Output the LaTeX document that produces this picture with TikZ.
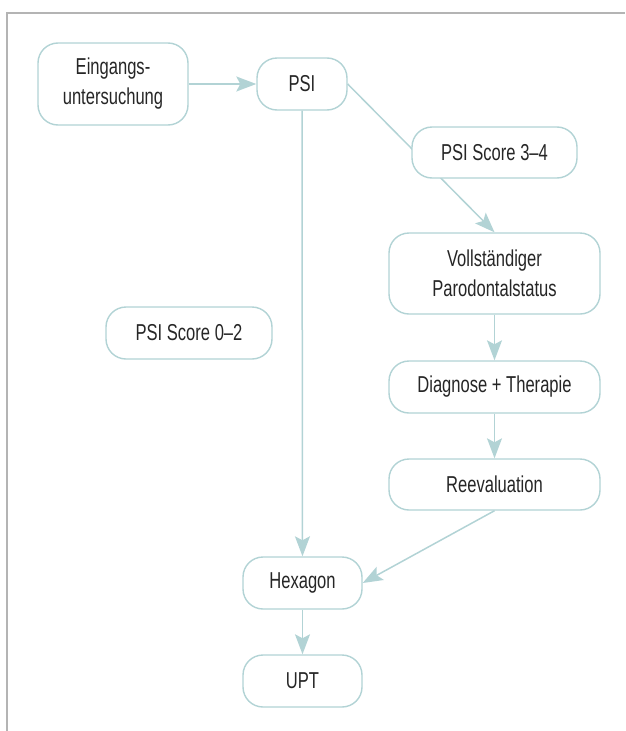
\documentclass[tikz,border=0pt]{standalone}
\usepackage{fontspec}
\setmainfont[FakeStretch=0.72]{Liberation Sans}
\usetikzlibrary{arrows.meta}
\definecolor{tealline}{HTML}{B2D3D5}
\definecolor{darktext}{HTML}{262626}
\definecolor{framegray}{HTML}{B4B4B4}

\begin{document}
\begin{tikzpicture}[x=1pt, y=-1pt,
    stepbox/.style={draw=tealline, line width=1.4pt, fill=white, rounded corners=20pt,
        text=darktext, align=center, inner sep=0pt, font=\fontsize{23}{30}\selectfont},
    flow/.style={draw=tealline, line width=1.5pt, -{Stealth[length=20pt, width=15pt, inset=4pt]}}]
    \useasboundingbox (0,0) rectangle (625,731);
    \draw[framegray, line width=1.2pt] (7,731) -- (7,13) -- (625,13);

    \node[stepbox, minimum width=150pt, minimum height=82pt] (eing) at (113,84) {Eingangs-\\untersuchung};
    \node[stepbox, minimum width=90pt, minimum height=52pt] (psi) at (302,84) {PSI};
    \node[stepbox, minimum width=211pt, minimum height=81pt] (voll) at (494.5,273.5) {Vollständiger\\Parodontalstatus};
    \node[stepbox, minimum width=166pt, minimum height=52pt] (score02) at (189,333) {PSI Score 0--2};
    \node[stepbox, minimum width=211pt, minimum height=52pt] (diag) at (494.5,387) {Diagnose + Therapie};
    \node[stepbox, minimum width=211pt, minimum height=51pt] (reeval) at (494.5,484.5) {Reevaluation};
    \node[stepbox, minimum width=119pt, minimum height=52pt] (hex) at (302.5,583) {Hexagon};
    \node[stepbox, minimum width=119pt, minimum height=52pt] (upt) at (302.5,681) {UPT};

    \draw[flow] (eing) -- (psi);
    \draw[flow] (psi.east) -- (voll.north);
    \draw[flow] (psi) -- (hex);
    \draw[flow] (voll) -- (diag);
    \draw[flow] (diag) -- (reeval);
    \draw[flow] (reeval.south) -- (hex.east);
    \draw[flow] (hex) -- (upt);

    % sits on top of the PSI line
    \node[stepbox, minimum width=165pt, minimum height=51pt] (score34) at (494.5,152.5) {PSI Score 3--4};
\end{tikzpicture}
\end{document}
